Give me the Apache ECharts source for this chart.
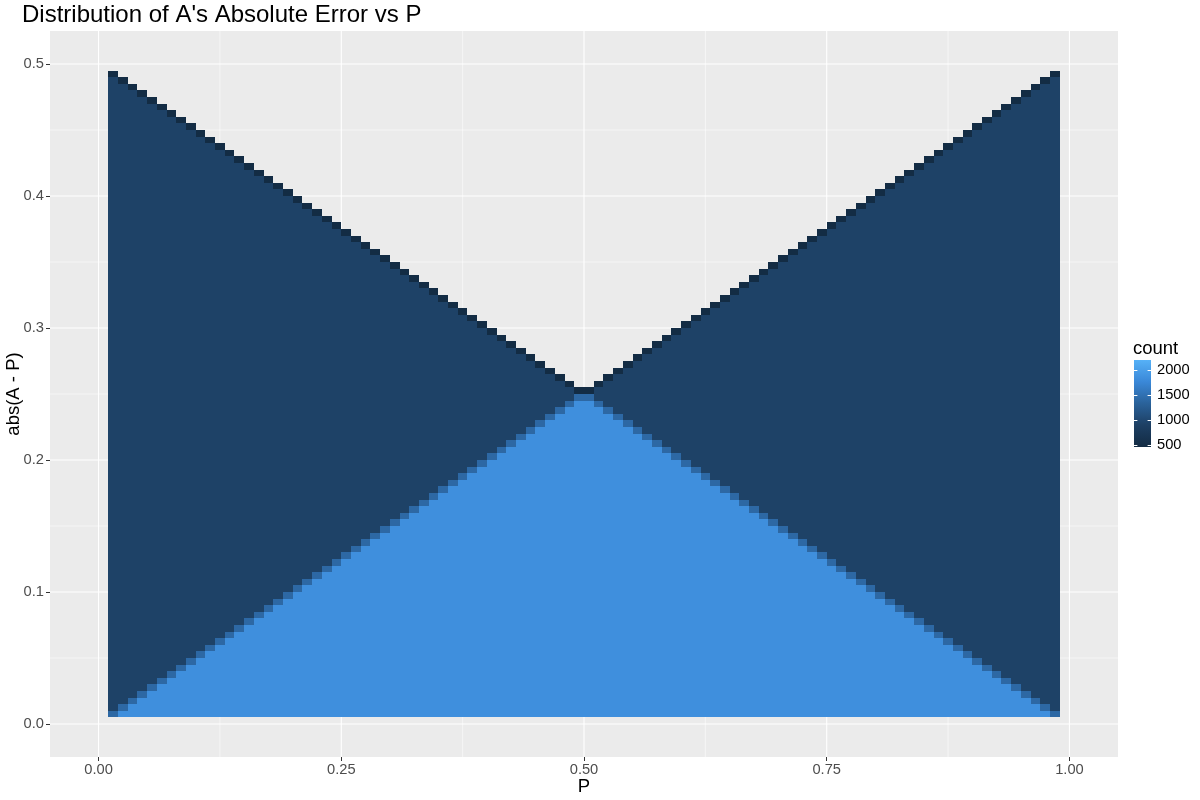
<!DOCTYPE html>
<html><head><meta charset="utf-8">
<script src="https://cdn.jsdelivr.net/npm/echarts@6/dist/echarts.min.js"></script>
<style>html,body{margin:0;padding:0;background:#fff}#c{width:1200px;height:800px}</style>
</head><body><div id="c"></div>
<script>
// ---- tick labels / breaks ----
const xTicks = [0, 0.25, 0.5, 0.75, 1];
const xMinor = [0.125, 0.375, 0.625, 0.875];
const yTicks = [0, 0.1, 0.2, 0.3, 0.4, 0.5];
const yMinor = [0.05, 0.15, 0.25, 0.35, 0.45];
const legendTicks = [500, 1000, 1500, 2000];
const countRange = [460, 2200];

// ---- bin layout (98 x 98 bins) ----
const pBinStart = 0.01, pBinWidth = 0.01;
const errBinStart = 0.005, errBinWidth = 0.005;

// top-most filled row of each P column (read from the staircase)
const topRow = [97,96,95,94,93,92,91,90,89,88,87,86,85,84,83,82,81,80,79,78,77,76,75,74,73,72,71,70,69,68,67,66,65,64,63,62,61,60,59,58,57,56,55,54,53,52,51,50,49,
                49,50,51,52,53,54,55,56,57,58,59,60,61,62,63,64,65,66,67,68,69,70,71,72,73,74,75,76,77,78,79,80,81,82,83,84,85,86,87,88,89,90,91,92,93,94,95,96,97];
// row where the light (double) region meets the dark region in each column
const splitRow = [0,1,2,3,4,5,6,7,8,9,10,11,12,13,14,15,16,17,18,19,20,21,22,23,24,25,26,27,28,29,30,31,32,33,34,35,36,37,38,39,40,41,42,43,44,45,46,47,48,
                  48,47,46,45,44,43,42,41,40,39,38,37,36,35,34,33,32,31,30,29,28,27,26,25,24,23,22,21,20,19,18,17,16,15,14,13,12,11,10,9,8,7,6,5,4,3,2,1,0];
// cell counts
const countLight = 1840;
const countSplit = 1400;
const countDark = 930;
const countTop = 480;

const palette = ['#132B43', '#1D3F63', '#2A629A', '#3A88D8', '#56B1F7'];
const FONT = '"Liberation Sans", Arial, Helvetica, sans-serif';
const TICK_FS = 14.7, TITLE_FS = 24, AXTITLE_FS = 18.5;

// build cells
const cells = [];
for (let i = 0; i < topRow.length; i++) {
  const x0 = pBinStart + i * pBinWidth, x1 = x0 + pBinWidth;
  for (let j = 0; j <= topRow[i]; j++) {
    const y0 = errBinStart + j * errBinWidth, y1 = y0 + errBinWidth;
    let c;
    if (j < splitRow[i]) c = countLight;
    else if (j === splitRow[i]) c = countSplit;
    else if (j < topRow[i]) c = countDark;
    else c = countTop;
    cells.push([x0, x1, y0, y1, c]);
  }
}
const gridData = [];
xTicks.forEach(v => gridData.push([v, 0.25, 0, 1]));
xMinor.forEach(v => gridData.push([v, 0.25, 0, 0]));
yTicks.forEach(v => gridData.push([0.5, v, 1, 1]));
yMinor.forEach(v => gridData.push([0.5, v, 1, 0]));

const chart = echarts.init(document.getElementById('c'), null, {renderer: 'canvas'});

// legend graphic
const lg = {x: 1134, y: 360, w: 17, h: 87};
const lgY = v => lg.y + lg.h - (v - countRange[0]) / (countRange[1] - countRange[0]) * lg.h;
const legendEls = [
  {type: 'text', x: 1133, y: 349, style: {text: 'count', font: AXTITLE_FS + 'px ' + FONT, fill: '#000', verticalAlign: 'middle'}},
  {type: 'rect', shape: {x: lg.x, y: lg.y, width: lg.w, height: lg.h},
   style: {fill: new echarts.graphic.LinearGradient(0, 1, 0, 0, palette.map((c, k) => ({offset: k / (palette.length - 1), color: c})))}}
];
legendTicks.forEach(v => {
  const y = Math.round(lgY(v)) + 0.5;
  legendEls.push({type: 'line', shape: {x1: lg.x, y1: y, x2: lg.x + 3.4, y2: y}, style: {stroke: '#fff', lineWidth: 1}});
  legendEls.push({type: 'line', shape: {x1: lg.x + lg.w - 3.4, y1: y, x2: lg.x + lg.w, y2: y}, style: {stroke: '#fff', lineWidth: 1}});
  legendEls.push({type: 'text', x: 1157, y: lgY(v), style: {text: String(v), font: TICK_FS + 'px ' + FONT, fill: '#000', verticalAlign: 'middle', align: 'left'}});
});

chart.setOption({
  animation: false,
  backgroundColor: '#fff',
  title: {text: "Distribution of A's Absolute Error vs P", left: 22, top: 3, padding: 0,
          textStyle: {fontFamily: FONT, fontSize: TITLE_FS, fontWeight: 'normal', color: '#000'}},
  grid: {left: 50, right: 82, top: 31, bottom: 43, show: true, backgroundColor: '#EBEBEB', borderWidth: 0,
         containLabel: false, outerBoundsMode: 'none'},
  xAxis: {type: 'value', min: -0.05, max: 1.05,
    name: 'P', nameLocation: 'middle', nameGap: 20, nameMoveOverlap: false,
    nameTextStyle: {fontFamily: FONT, fontSize: AXTITLE_FS, color: '#000'},
    axisLine: {show: false, onZero: false},
    axisTick: {show: true, length: 4, customValues: xTicks, lineStyle: {color: '#333333', width: 1}},
    axisLabel: {customValues: xTicks, margin: 5, formatter: v => Number(v).toFixed(2), fontFamily: FONT, fontSize: TICK_FS, color: '#4D4D4D'},
    splitLine: {show: false}, minorSplitLine: {show: false}},
  yAxis: {type: 'value', min: -0.025, max: 0.525,
    name: 'abs(A - P)', nameLocation: 'middle', nameGap: 27, nameMoveOverlap: false,
    nameTextStyle: {fontFamily: FONT, fontSize: AXTITLE_FS, color: '#000'},
    axisLine: {show: false, onZero: false},
    axisTick: {show: true, length: 4, customValues: yTicks, lineStyle: {color: '#333333', width: 1}},
    axisLabel: {customValues: yTicks, margin: 6, formatter: v => Number(v).toFixed(1), fontFamily: FONT, fontSize: TICK_FS, color: '#4D4D4D'},
    splitLine: {show: false}, minorSplitLine: {show: false}},
  visualMap: {show: false, type: 'continuous', min: countRange[0], max: countRange[1], dimension: 4, seriesIndex: 1,
    inRange: {color: palette}},
  graphic: legendEls,
  series: [
    {type: 'custom', z: 1, silent: true, data: gridData, progressive: 0,
     renderItem: (params, api) => {
       const cs = params.coordSys;
       const isY = api.value(2) === 1, major = api.value(3) === 1;
       const lw = major ? 1.1 : 0.55;
       if (!isY) {
         const x = api.coord([api.value(0), 0])[0];
         return {type: 'line', shape: {x1: x, y1: cs.y, x2: x, y2: cs.y + cs.height}, style: {stroke: '#fff', lineWidth: lw}};
       }
       const y = api.coord([0, api.value(1)])[1];
       return {type: 'line', shape: {x1: cs.x, y1: y, x2: cs.x + cs.width, y2: y}, style: {stroke: '#fff', lineWidth: lw}};
     }},
    {type: 'custom', z: 2, silent: true, data: cells, progressive: 0, progressiveThreshold: 100000,
     encode: {x: [0, 1], y: [2, 3]},
     renderItem: (params, api) => {
       const p0 = api.coord([api.value(0), api.value(2)]);
       const p1 = api.coord([api.value(1), api.value(3)]);
       const x = Math.round(p0[0]), x2 = Math.round(p1[0]);
       const y = Math.round(p1[1]), y2 = Math.round(p0[1]);
       return {type: 'rect', shape: {x: x, y: y, width: x2 - x, height: y2 - y}, style: {fill: api.visual('color')}};
     }}
  ]
});
</script></body></html>
